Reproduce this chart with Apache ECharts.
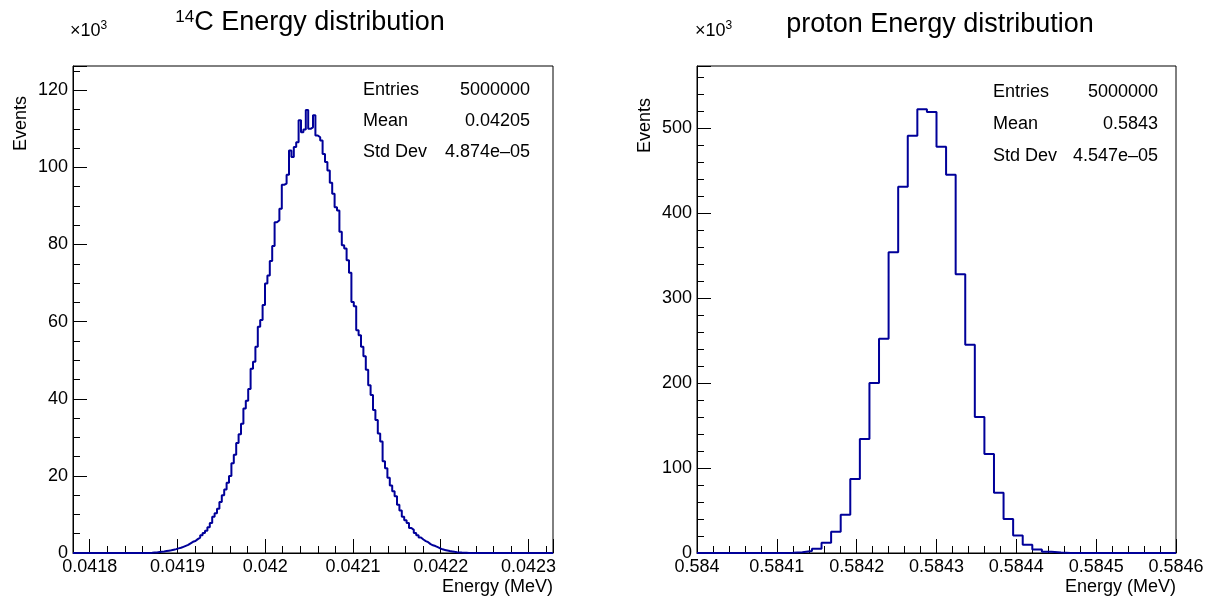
<!DOCTYPE html>
<html>
<head>
<meta charset="utf-8">
<script src="https://cdn.jsdelivr.net/npm/echarts@6/dist/echarts.min.js"></script>
<style>
html,body{margin:0;padding:0;background:#fff;}
#chart{width:1211px;height:600px;}
</style>
</head>
<body>
<div id="chart"></div>
<script>
// ---------- data (counts in units of 10^3 events) ----------
const c14Title = '14C Energy distribution';
const c14Range = [0.041781, 0.042328];
const c14YMax = 126.3;
const c14Counts = [
  0,0,0,0,0,0,0,0,0,0, 0,0,0,0,0,0,0,0,0,0, 0,0,0,0,0,0,0,0,0,0,
  0.01,0.02,0.05,0.1,0.15,0.25,0.35,0.4,0.5,0.6,
  0.7,0.85,1.0,1.2,1.35,1.6,1.85,2.1,2.5,2.9,
  3.1,3.6,4.0,4.6,5.2,5.8,6.7,7.8,9.4,10.3,
  11.5,13.2,15.0,16.5,18.2,20.0,23.3,25.5,28.5,30.8,
  33.5,37.5,39.5,42.5,47.8,49.6,53.5,58.7,60.4,64.3,
  69.9,72.0,75.7,79.6,85.8,86.3,89.3,95.5,95.8,98.1,
  104.4,102.7,105.3,106.5,112.2,109.1,109.8,114.9,110.0,110.4,
  113.5,108.3,107.8,107.0,103.5,101.4,99.2,96.0,93.2,89.7,
  88.8,83.3,79.8,79.0,75.9,72.7,65.1,64.0,57.8,56.5,
  53.5,51.0,47.5,43.5,41.0,37.1,34.5,31.0,28.9,23.8,
  22.0,19.5,17.5,16.0,14.7,12.5,11.0,9.4,8.5,7.8,
  6.5,6.0,5.2,4.6,4.0,3.5,3.1,2.8,2.3,2.0,
  1.8,1.5,1.2,0.95,0.8,0.65,0.5,0.4,0.3,0.22,
  0.15,0.1,0.07,0.05,0.03,0.02,0.01,
  0,0,0,0,0,0,0,0,0,0, 0,0,0,0,0,0,0,0,0,0, 0,0,0,0,0,0,0,0,0,0, 0,0,0
];
const c14Stats = [['Entries', '5000000'], ['Mean', '0.04205'], ['Std Dev', '4.874e\u201305']];

const protonTitle = 'proton Energy distribution';
const protonRange = [0.584, 0.5846];
const protonYMax = 573;
const protonCounts = [
  0,0,0,0,0,0,0,0,
  0.1,0.3,1.0,2.4,5,12,25,45,87,134,
  200,252,354,431,491,522,519,478,445,328,
  245,160,116.6,71,40,20.5,9.8,4,1.6,0.5,0.1,
  0,0,0,0,0,0,0,0,0,0,0
];
const protonStats = [['Entries', '5000000'], ['Mean', '0.5843'], ['Std Dev', '4.547e\u201305']];

const xTitle = 'Energy (MeV)';
const yTitle = 'Events';

// ---------- build ----------
function histPoints(counts, range) {
  const w = (range[1] - range[0]) / counts.length;
  const pts = counts.map((v, i) => [range[0] + i * w, v]);
  pts.push([range[1], counts[counts.length - 1]]);
  return pts;
}

const FONT = '"Liberation Sans", Arial, Helvetica, sans-serif';
const LINE = '#000099';

function xAxisCfg(grid, range, minorSplit) {
  return {
    type: 'value', gridIndex: grid, min: range[0], max: range[1], splitNumber: 5,
    axisLine: {show: true, onZero: false, lineStyle: {color: '#000', width: 1}},
    axisTick: {show: true, inside: true, length: 14, lineStyle: {color: '#000'}},
    minorTick: {show: true, splitNumber: minorSplit, length: 7, lineStyle: {color: '#000'}},
    splitLine: {show: false}, minorSplitLine: {show: false},
    axisLabel: {show: true, color: '#000', fontFamily: FONT, fontSize: 18, margin: 5,
      showMinLabel: grid === 1, showMaxLabel: grid === 1, hideOverlap: false,
      formatter: v => String(+v.toFixed(6))}
  };
}
function yAxisCfg(grid, max, minorSplit) {
  return {
    type: 'value', gridIndex: grid, min: 0, max: max, splitNumber: 6,
    axisLine: {show: true, lineStyle: {color: '#000', width: 1}},
    axisTick: {show: true, inside: true, length: 14, lineStyle: {color: '#000'}},
    minorTick: {show: true, splitNumber: minorSplit, length: 7, lineStyle: {color: '#000'}},
    splitLine: {show: false}, minorSplitLine: {show: false},
    axisLabel: {show: true, color: '#000', fontFamily: FONT, fontSize: 18, margin: 5,
      showMaxLabel: false, hideOverlap: false}
  };
}

const grids = [
  {left: 73, top: 66, width: 480, height: 487},
  {left: 697, top: 66, width: 479, height: 487}
];

function statsGraphics(stats, labelX, valueX, ys) {
  const out = [];
  stats.forEach((s, i) => {
    out.push({type: 'text', x: labelX, y: ys[i], style: {text: s[0], font: '18px ' + FONT, fill: '#000', align: 'left', verticalAlign: 'middle'}});
    out.push({type: 'text', x: valueX, y: ys[i], style: {text: s[1], font: '18px ' + FONT, fill: '#000', align: 'right', verticalAlign: 'middle'}});
  });
  return out;
}

const titleRich = {
  sup: {fontSize: 17, fontWeight: 'normal', fontFamily: FONT, color: '#000', verticalAlign: 'top', padding: [0, 0, 10, 0]},
  n: {fontSize: 27, fontWeight: 'normal', fontFamily: FONT, color: '#000'}
};
const expRich = {
  m: {fontSize: 18, fontFamily: FONT, color: '#000'},
  e: {fontSize: 12, fontFamily: FONT, color: '#000', padding: [0, 0, 10, 0]}
};

const option = {
  backgroundColor: '#fff',
  animation: false,
  title: [
    {text: '{sup|' + c14Title.slice(0, 2) + '}{n|' + c14Title.slice(2) + '}', left: 305, top: 4, textAlign: 'center',
      textStyle: {fontWeight: 'normal', rich: titleRich}},
    {text: '{n|' + protonTitle + '}', left: 935, top: 6, textAlign: 'center', textStyle: {fontWeight: 'normal', rich: titleRich}}
  ],
  grid: grids.map(g => Object.assign({show: true, borderColor: '#000', borderWidth: 1, backgroundColor: 'transparent', containLabel: false}, g)),
  xAxis: [xAxisCfg(0, c14Range, 5), xAxisCfg(1, protonRange, 5)],
  yAxis: [yAxisCfg(0, c14YMax, 4), yAxisCfg(1, protonYMax, 5)],
  series: [
    {type: 'line', xAxisIndex: 0, yAxisIndex: 0, step: 'end', symbol: 'none', clip: false,
      lineStyle: {color: LINE, width: 2}, data: histPoints(c14Counts, c14Range), z: 5},
    {type: 'line', xAxisIndex: 1, yAxisIndex: 1, step: 'end', symbol: 'none', clip: false,
      lineStyle: {color: LINE, width: 2}, data: histPoints(protonCounts, protonRange), z: 5}
  ],
  graphic: [].concat(
    [{type: 'text', x: 70, y: 42, style: {text: '{m|\u00d710}{e|3}', rich: expRich, verticalAlign: 'bottom'}},
     {type: 'text', x: 695, y: 42, style: {text: '{m|\u00d710}{e|3}', rich: expRich, verticalAlign: 'bottom'}},
     {type: 'text', x: 21, y: 96, rotation: Math.PI / 2, style: {text: yTitle, font: '18px ' + FONT, fill: '#000', align: 'right', verticalAlign: 'middle'}},
     {type: 'text', x: 645, y: 98, rotation: Math.PI / 2, style: {text: yTitle, font: '18px ' + FONT, fill: '#000', align: 'right', verticalAlign: 'middle'}},
     {type: 'text', x: 553, y: 587, style: {text: xTitle, font: '18px ' + FONT, fill: '#000', align: 'right', verticalAlign: 'middle'}},
     {type: 'text', x: 1176, y: 587, style: {text: xTitle, font: '18px ' + FONT, fill: '#000', align: 'right', verticalAlign: 'middle'}}],
    statsGraphics(c14Stats, 363, 530, [90, 121, 152]),
    statsGraphics(protonStats, 993, 1158, [92, 124, 156])
  )
};

const chart = echarts.init(document.getElementById('chart'), null, {renderer: 'canvas'});
chart.setOption(option);
</script>
</body>
</html>
